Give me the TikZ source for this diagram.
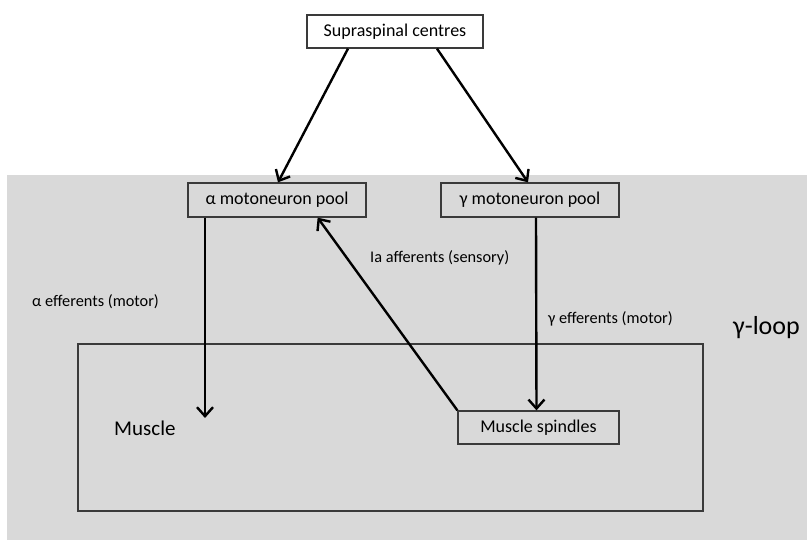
\documentclass[tikz,border=0pt]{standalone}
\usepackage{fontspec}
\setmainfont{Carlito}
\usepackage{tikz}
\usetikzlibrary{arrows.meta}

\definecolor{loopgray}{HTML}{D9D9D9}
\definecolor{boxline}{HTML}{3A3A3A}

\begin{document}
\begin{tikzpicture}[x=1pt,y=-1pt,
  pool/.style={draw=boxline,line width=1.3pt,minimum width=178pt,minimum height=34pt,inner sep=0pt,font=\fontsize{18}{22}\selectfont},
  lbl/.style={inner sep=0pt,font=\fontsize{16.3}{20}\selectfont},
  arr/.style={line width=2.4pt,-{Straight Barb[length=9pt,width=16pt]}}]

\useasboundingbox (0,0) rectangle (807,540);

% Loop region
\fill[loopgray] (7,175) rectangle (807,540);

% Muscle
\draw[boxline,line width=1.6pt] (78,344) rectangle (703,511);
\node[inner sep=0pt,anchor=west,font=\fontsize{21}{25}\selectfont] (muscle) at (114,428) {Muscle};

% Boxes
\node[pool,fill=white,minimum width=176pt,minimum height=33pt] (supra) at (395,31.5) {Supraspinal centres};
\node[pool] (alpha) at (277,200) {α motoneuron pool};
\node[pool] (gamma) at (530,200) {γ motoneuron pool};
\node[pool,minimum width=161pt,minimum height=33pt] (spindle) at (538.5,427.5) {Muscle spindles};

% Labels
\node[lbl,anchor=west] (aeff) at (32,302) {α efferents (motor)};
\node[lbl,anchor=west] (iaff) at (370,258) {Ia afferents (sensory)};
\node[lbl,anchor=east] (geff) at (673,319) {γ efferents (motor)};
\node[inner sep=0pt,anchor=west,font=\fontsize{26}{30}\selectfont] (gloop) at (733,328) {γ-loop};

% Arrows
\coordinate (aend) at (205,418);
\draw[arr] ([xshift=-47pt]supra.south) -- ([xshift=1pt]alpha.north);
\draw[arr] ([xshift=42pt]supra.south) -- ([xshift=-2pt]gamma.north);
\draw[arr] ([xshift=-72pt]alpha.south) -- (aend);
\draw[arr] ([xshift=6pt]gamma.south) -- ([xshift=-2pt]spindle.north);
\draw[arr] (spindle.north west) -- ([xshift=-49pt]alpha.south east);

\end{tikzpicture}
\end{document}
